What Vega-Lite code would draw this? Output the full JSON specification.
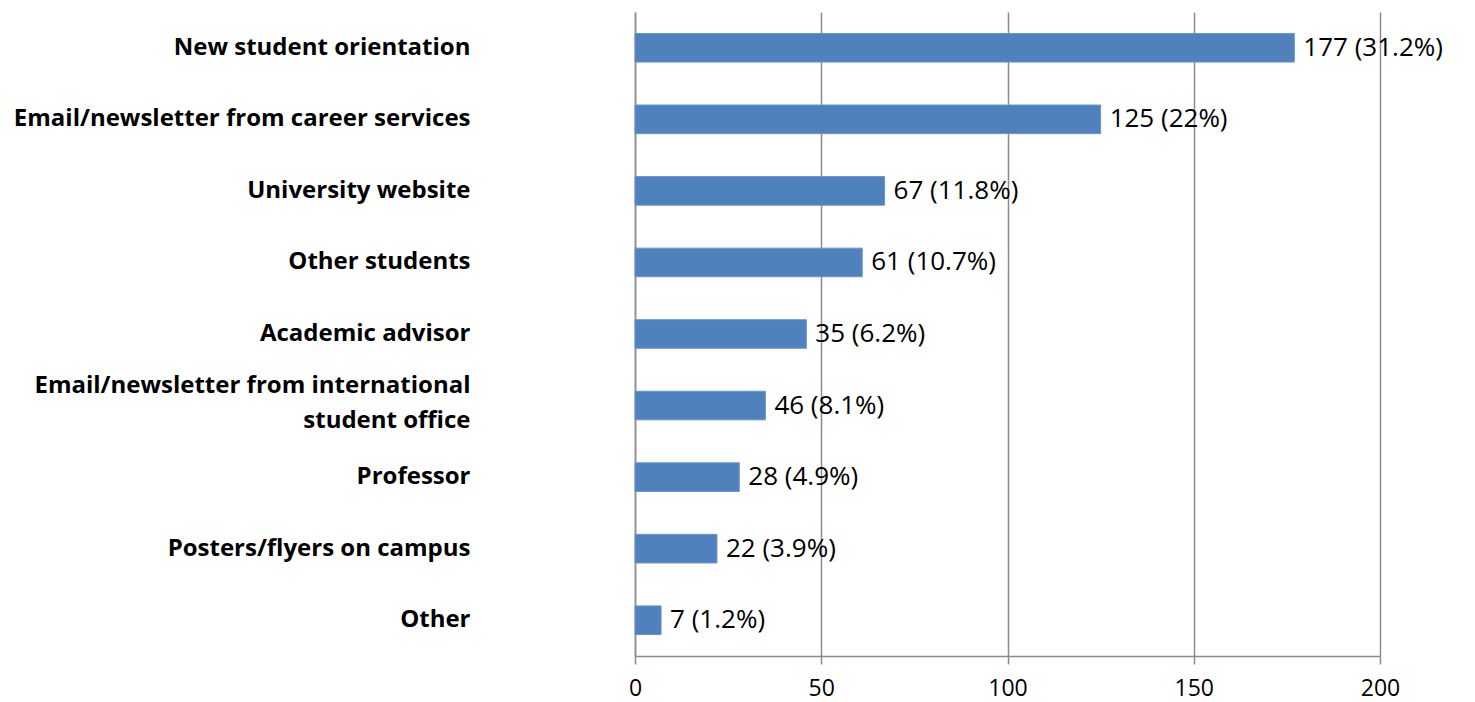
{
  "$schema": "https://vega.github.io/schema/vega-lite/v6.json",
  "width": 745,
  "height": 644,
  "autosize": "none",
  "padding": {"left": 635, "top": 12, "right": 95, "bottom": 46},
  "background": "white",
  "data": {
    "values": [
      {"source": "New student orientation", "count": 177, "label": "177 (31.2%)"},
      {"source": "Email/newsletter from career services", "count": 125, "label": "125 (22%)"},
      {"source": "University website", "count": 67, "label": "67 (11.8%)"},
      {"source": "Other students", "count": 61, "label": "61 (10.7%)"},
      {"source": "Academic advisor", "count": 46, "label": "35 (6.2%)"},
      {"source": "Email/newsletter from international student office", "count": 35, "label": "46 (8.1%)"},
      {"source": "Professor", "count": 28, "label": "28 (4.9%)"},
      {"source": "Posters/flyers on campus", "count": 22, "label": "22 (3.9%)"},
      {"source": "Other", "count": 7, "label": "7 (1.2%)"}
    ]
  },
  "config": {
    "view": {"stroke": null},
    "font": "Open Sans"
  },
  "encoding": {
    "y": {
      "field": "source",
      "type": "nominal",
      "sort": null,
      "scale": {"paddingInner": 0.6, "paddingOuter": 0.3},
      "axis": {
        "title": null,
        "ticks": false,
        "domain": true,
        "domainColor": "#8c8c8c",
        "domainWidth": 1.5,
        "labelPadding": 165,
        "labelLimit": 0,
        "labelFont": "Open Sans",
        "labelFontWeight": "bold",
        "labelFontSize": 24,
        "labelColor": "#000000",
        "labelLineHeight": 35,
        "labelOffset": {"condition": {"test": "datum.value == 'Email/newsletter from international student office'", "value": -20}, "value": 0},
        "labelExpr": "datum.value == 'Email/newsletter from international student office' ? ['Email/newsletter from international', 'student office'] : datum.value"
      }
    }
  },
  "layer": [
    {
      "mark": {"type": "bar", "color": "#4F81BD", "stroke": "#6A95CB", "strokeWidth": 1},
      "encoding": {
        "x": {
          "field": "count",
          "type": "quantitative",
          "scale": {"domain": [0, 200]},
          "axis": {
            "title": null,
            "values": [0, 50, 100, 150, 200],
            "grid": true,
            "gridColor": "#8c8c8c",
            "gridWidth": 1.5,
            "domainColor": "#8c8c8c",
            "domainWidth": 1.5,
            "tickColor": "#8c8c8c",
            "tickWidth": 1.5,
            "tickSize": 8,
            "labelPadding": 13,
            "labelFont": "Open Sans",
            "labelFontSize": 23,
            "labelColor": "#000000",
            "labelFlush": false
          }
        }
      }
    },
    {
      "mark": {"type": "text", "align": "left", "baseline": "middle", "dx": 9, "fontSize": 26, "font": "Open Sans", "color": "#000000"},
      "encoding": {
        "x": {"field": "count", "type": "quantitative"},
        "text": {"field": "label", "type": "nominal"}
      }
    }
  ]
}
